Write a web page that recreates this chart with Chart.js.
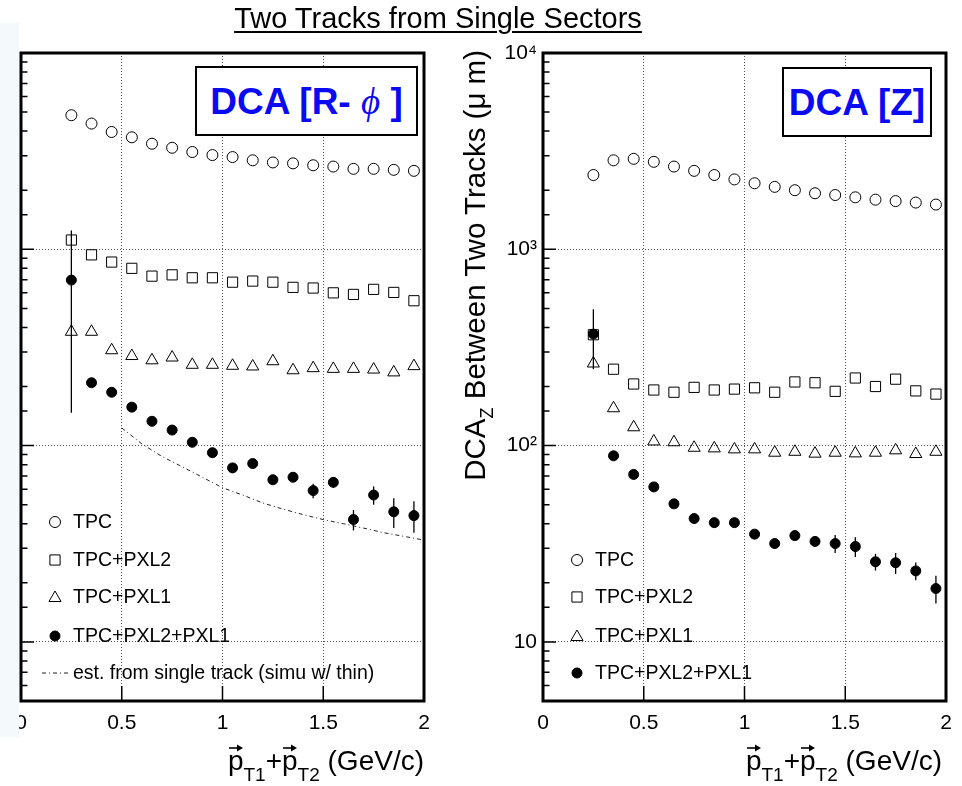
<!DOCTYPE html>
<html>
<head>
<meta charset="utf-8">
<script src="https://cdn.jsdelivr.net/npm/chart.js@4.4.1/dist/chart.umd.min.js"></script>
<style>
  body { margin: 0; background: #fff; font-family: "Liberation Sans", Arial, sans-serif; }
  #page { position: relative; width: 962px; height: 786px; overflow: hidden; background: #fff; }
  canvas { position: absolute; top: 0; }
  #cl { left: 0; }
  #cr { left: 440px; }
  .txt { position: absolute; white-space: nowrap; color: #000; }
  #title { left: 0; width: 876px; top: 4px; text-align: center; font-size: 29px; line-height: 29px;
           text-decoration: underline; text-decoration-thickness: 2px; text-underline-offset: 3px; }
  .box { position: absolute; box-sizing: border-box; border: 2px solid #000; background: #fff;
         display: flex; align-items: center; justify-content: center;
         color: #0a0af5; font-weight: bold; font-size: 37px; line-height: 37px; white-space: nowrap; }
  .box .phi { font-family: "Liberation Serif", "DejaVu Serif", serif; font-style: italic; font-weight: normal; }
  .leg { font-size: 19.5px; line-height: 19.5px; }
  .xt { top: 747px; font-size: 28px; line-height: 28px; text-align: right; }
  .xt sub { font-size: 19px; position: relative; top: 11px; vertical-align: baseline; line-height: 0; }
  .v { position: relative; display: inline-block; }
  .v svg { position: absolute; left: 1px; top: -3px; }
  #ytitle { left: 460px; top: 492px; width: 442px; text-align: right; font-size: 29.5px; line-height: 29px;
            transform-origin: 0 0; transform: rotate(-90deg); }
  #ytitle sub { font-size: 18px; position: relative; top: 8px; vertical-align: baseline; line-height: 0; }
  #strip { position: absolute; left: 0; top: 23px; width: 19px; height: 714px; background: #f4f9fc; }
</style>
</head>
<body>
<div id="page">
  <canvas id="cl" width="440" height="786"></canvas>
  <canvas id="cr" width="522" height="786"></canvas>

  <div id="title" class="txt">Two Tracks from Single Sectors</div>

  <div class="box" style="left:195px;top:66px;width:223px;height:70px;">DCA [R-&nbsp;<span class="phi">&#x3D5;</span>&nbsp;]</div>
  <div class="box" style="left:782px;top:67px;width:150px;height:70px;">DCA [Z]</div>

  <div class="txt leg" style="left:73px;top:512px;">TPC</div>
  <div class="txt leg" style="left:73px;top:550px;">TPC+PXL2</div>
  <div class="txt leg" style="left:73px;top:587px;">TPC+PXL1</div>
  <div class="txt leg" style="left:73px;top:626px;">TPC+PXL2+PXL1</div>
  <div class="txt leg" style="left:73px;top:663px;">est. from single track (simu w/ thin)</div>

  <div class="txt leg" style="left:595px;top:550px;">TPC</div>
  <div class="txt leg" style="left:595px;top:587px;">TPC+PXL2</div>
  <div class="txt leg" style="left:595px;top:626px;">TPC+PXL1</div>
  <div class="txt leg" style="left:595px;top:663px;">TPC+PXL2+PXL1</div>

  <div id="ytitle" class="txt">DCA<sub>Z</sub> Between Two Tracks (&mu; m)</div>

  <div class="txt xt" style="right:538px;"><span class="v">p<svg width="14" height="8"><line x1="0" y1="4" x2="10" y2="4" stroke="#000" stroke-width="1.6"/><polygon points="8,0.5 14,4 8,7.5" fill="#000"/></svg></span><sub>T1</sub>+<span class="v">p<svg width="14" height="8"><line x1="0" y1="4" x2="10" y2="4" stroke="#000" stroke-width="1.6"/><polygon points="8,0.5 14,4 8,7.5" fill="#000"/></svg></span><sub>T2</sub> (GeV/c)</div>
  <div class="txt xt" style="right:20px;"><span class="v">p<svg width="14" height="8"><line x1="0" y1="4" x2="10" y2="4" stroke="#000" stroke-width="1.6"/><polygon points="8,0.5 14,4 8,7.5" fill="#000"/></svg></span><sub>T1</sub>+<span class="v">p<svg width="14" height="8"><line x1="0" y1="4" x2="10" y2="4" stroke="#000" stroke-width="1.6"/><polygon points="8,0.5 14,4 8,7.5" fill="#000"/></svg></span><sub>T2</sub> (GeV/c)</div>

  <div id="strip"></div>
</div>

<script>
// pT bin centres (GeV/c)
const ptBins = [0.25, 0.35, 0.45, 0.55, 0.65, 0.75, 0.85, 0.95, 1.05, 1.15, 1.25, 1.35, 1.45, 1.55, 1.65, 1.75, 1.85, 1.95];

// DCA [R-phi] between two tracks (um)
const rphiTPC    = [4820, 4370, 3960, 3720, 3450, 3290, 3130, 3020, 2950, 2840, 2770, 2740, 2680, 2640, 2570, 2570, 2540, 2510];
const rphiPXL2   = [1115, 937, 861, 800, 730, 741, 716, 716, 680, 689, 680, 640, 635, 600, 589, 625, 603, 547];
const rphiPXL1   = [380, 380, 306, 286, 272, 281, 258, 258, 255, 253, 269, 242, 248, 246, 246, 244, 236, 254];
const rphiAll    = [697, 209, 187, 157, 133, 120, 104, 92, 77, 81, 67, 69, 59, 65, 42, 56, 46, 44];
const rphiAllErr = [550, 8, 6, 5, 4, 4, 3, 3, 3, 3, 3, 3, 5, 4, 5, 6, 8, 8];

// estimate from single track (dash-dot curve)
const estPt  = [0.5, 0.6, 0.7, 0.8, 0.9, 1.0, 1.1, 1.2, 1.3, 1.4, 1.5, 1.6, 1.7, 1.8, 1.9, 2.0];
const estDca = [123, 102, 88, 78, 69, 61, 56, 51, 47.5, 44.5, 42, 40, 38, 36, 34.5, 33];

// DCA [Z] between two tracks (um)
const zTPC    = [2390, 2840, 2890, 2790, 2640, 2510, 2390, 2270, 2170, 2080, 2000, 1930, 1890, 1840, 1790, 1760, 1730, 1690];
const zPXL2   = [367, 245, 206, 192, 187, 198, 192, 194, 197, 187, 211, 209, 189, 221, 200, 218, 190, 183];
const zPXL1   = [262, 155, 124, 105, 104, 97.5, 96.8, 95.7, 95.7, 92, 93, 91, 92, 91.3, 92, 94.6, 90.6, 93];
const zAll    = [370, 88.7, 71.3, 61.6, 50.5, 42.5, 40.5, 40.5, 35.4, 31.7, 34.8, 32.5, 31.7, 30.6, 25.6, 25.3, 23.0, 18.7];
const zAllErr = [125, 3, 2.5, 2, 2, 1.5, 1.5, 1.5, 1.5, 1.5, 1.5, 2, 3.3, 3.5, 2.5, 3.1, 2.4, 3];

const xTicks = [0, 0.5, 1, 1.5, 2];
const yMin = 5, yMax = 10000;

const FONT = '"Liberation Sans", Arial, sans-serif';
const sup = { 2: '\u00B2', 3: '\u00B3', 4: '\u2074' };

function isDecade(v) {
  const e = Math.log10(v);
  return Math.abs(e - Math.round(e)) < 1e-9;
}

function pts(xs, ys) {
  return xs.map((x, i) => ({ x: x, y: ys[i] }));
}

function drawMarker(ctx, style, x, y, r, fill) {
  ctx.beginPath();
  if (style === 'circle') {
    ctx.arc(x, y, r, 0, Math.PI * 2);
  } else if (style === 'rect') {
    const s = r * Math.SQRT1_2;
    ctx.rect(x - s, y - s, 2 * s, 2 * s);
  } else if (style === 'triangle') {
    ctx.moveTo(x, y - r);
    ctx.lineTo(x + r * 0.866, y + r / 2);
    ctx.lineTo(x - r * 0.866, y + r / 2);
    ctx.closePath();
  }
  if (fill) ctx.fill();
  ctx.stroke();
}

// ROOT-like frame, inner ticks, error bars and legend symbols
const rootStyle = {
  id: 'rootStyle',
  beforeDatasetsDraw(chart) {
    const { ctx, scales: { x, y } } = chart;
    ctx.save();
    ctx.strokeStyle = '#000';
    ctx.lineWidth = 1.3;
    chart.data.datasets.forEach(ds => {
      if (!ds.errorBars) return;
      ds.data.forEach((p, i) => {
        const e = ds.errorBars[i];
        const px = x.getPixelForValue(p.x);
        ctx.beginPath();
        ctx.moveTo(px, y.getPixelForValue(p.y + e));
        ctx.lineTo(px, y.getPixelForValue(Math.max(p.y - e, yMin)));
        ctx.stroke();
      });
    });
    ctx.restore();
  },
  afterDraw(chart, args, opts) {
    const { ctx, chartArea: a, scales: { x, y } } = chart;
    ctx.save();
    ctx.strokeStyle = '#000';
    ctx.fillStyle = '#000';
    ctx.lineWidth = 1.5;
    ctx.beginPath();
    y.ticks.forEach(t => {
      if (t.value <= yMin || t.value >= yMax) return;
      const py = y.getPixelForValue(t.value);
      const len = isDecade(t.value) ? 13 : 6.5;
      ctx.moveTo(a.left, py);
      ctx.lineTo(a.left + len, py);
    });
    x.ticks.forEach(t => {
      if (t.value <= x.min || t.value >= x.max) return;
      const px = x.getPixelForValue(t.value);
      ctx.moveTo(px, a.bottom);
      ctx.lineTo(px, a.bottom - 15);
    });
    ctx.stroke();

    ctx.lineWidth = 3;
    ctx.strokeRect(a.left, a.top, a.right - a.left, a.bottom - a.top);

    ctx.lineWidth = 1;
    (opts.markers || []).forEach(m => drawMarker(ctx, m.style, m.x, m.y, m.r, m.fill));
    if (opts.line) {
      ctx.setLineDash([4, 3, 1, 3]);
      ctx.strokeStyle = '#222';
      ctx.beginPath();
      ctx.moveTo(opts.line.x0, opts.line.y);
      ctx.lineTo(opts.line.x1, opts.line.y);
      ctx.stroke();
    }
    ctx.restore();
  }
};

function seriesSets(tpc, pxl2, pxl1, all, allErr) {
  return [
    { label: 'TPC', data: pts(ptBins, tpc), pointStyle: 'circle', pointRadius: 5.5,
      borderColor: '#000', backgroundColor: 'rgba(0,0,0,0)', pointBorderWidth: 1 },
    { label: 'TPC+PXL2', data: pts(ptBins, pxl2), pointStyle: 'rect', pointRadius: 7.2,
      borderColor: '#000', backgroundColor: 'rgba(0,0,0,0)', pointBorderWidth: 1 },
    { label: 'TPC+PXL1', data: pts(ptBins, pxl1), pointStyle: 'triangle', pointRadius: 7,
      borderColor: '#000', backgroundColor: 'rgba(0,0,0,0)', pointBorderWidth: 1 },
    { label: 'TPC+PXL2+PXL1', data: pts(ptBins, all), errorBars: allErr, pointStyle: 'circle', pointRadius: 5,
      borderColor: '#000', backgroundColor: '#000', pointBorderWidth: 1 }
  ];
}

function makeOptions(yWidth, padLeft, showYLabels, legendOpts) {
  return {
    responsive: false,
    devicePixelRatio: 1,
    animation: false,
    layout: { padding: { left: padLeft, top: 53, right: 16, bottom: 45 } },
    plugins: { legend: { display: false }, tooltip: { enabled: false }, rootStyle: legendOpts },
    scales: {
      x: {
        type: 'linear', min: 0, max: 2,
        afterBuildTicks: s => { s.ticks = xTicks.map(v => ({ value: v })); },
        afterFit: s => { s.height = 40; },
        grid: {
          drawTicks: false, lineWidth: 1,
          color: c => (c.tick && c.tick.value > 0 && c.tick.value < 2) ? '#555' : 'rgba(0,0,0,0)'
        },
        border: { display: false, dash: [1, 2] },
        ticks: {
          padding: 10, color: '#000', font: { family: FONT, size: 21 }, maxRotation: 0, autoSkip: false,
          callback: v => String(Number(v))
        }
      },
      y: {
        type: 'logarithmic', min: yMin, max: yMax,
        afterFit: s => { s.width = yWidth; },
        grid: {
          drawTicks: false, lineWidth: 1,
          color: c => (c.tick && isDecade(c.tick.value) && c.tick.value > yMin && c.tick.value < yMax) ? '#555' : 'rgba(0,0,0,0)'
        },
        border: { display: false, dash: [1, 2] },
        ticks: {
          display: showYLabels, autoSkip: false, padding: 6, color: '#000',
          font: { family: FONT, size: 21 },
          callback: v => {
            if (!isDecade(v)) return '';
            const e = Math.round(Math.log10(v));
            return e === 1 ? '10' : '10' + sup[e];
          }
        }
      }
    }
  };
}

// left panel: DCA [R-phi]
const leftSets = seriesSets(rphiTPC, rphiPXL2, rphiPXL1, rphiAll, rphiAllErr);
leftSets.push({
  label: 'est. from single track', data: pts(estPt, estDca), showLine: true, pointRadius: 0,
  borderColor: '#222', borderWidth: 1, borderDash: [4, 3, 1, 3], fill: false, tension: 0
});
new Chart(document.getElementById('cl'), {
  type: 'scatter',
  data: { datasets: leftSets },
  options: makeOptions(0, 21, false, {
    markers: [
      { style: 'circle', x: 55, y: 522, r: 5.5, fill: false },
      { style: 'rect', x: 55, y: 560, r: 7.2, fill: false },
      { style: 'triangle', x: 55, y: 598, r: 7, fill: false },
      { style: 'circle', x: 55, y: 636, r: 5, fill: true }
    ],
    line: { x0: 42, x1: 70, y: 673 }
  }),
  plugins: [rootStyle]
});

// right panel: DCA [Z]
new Chart(document.getElementById('cr'), {
  type: 'scatter',
  data: { datasets: seriesSets(zTPC, zPXL2, zPXL1, zAll, zAllErr) },
  options: makeOptions(103, 0, true, {
    markers: [
      { style: 'circle', x: 137, y: 560, r: 5.5, fill: false },
      { style: 'rect', x: 137, y: 597, r: 7.2, fill: false },
      { style: 'triangle', x: 137, y: 637, r: 7, fill: false },
      { style: 'circle', x: 137, y: 673, r: 5, fill: true }
    ]
  }),
  plugins: [rootStyle]
});
</script>
</body>
</html>
